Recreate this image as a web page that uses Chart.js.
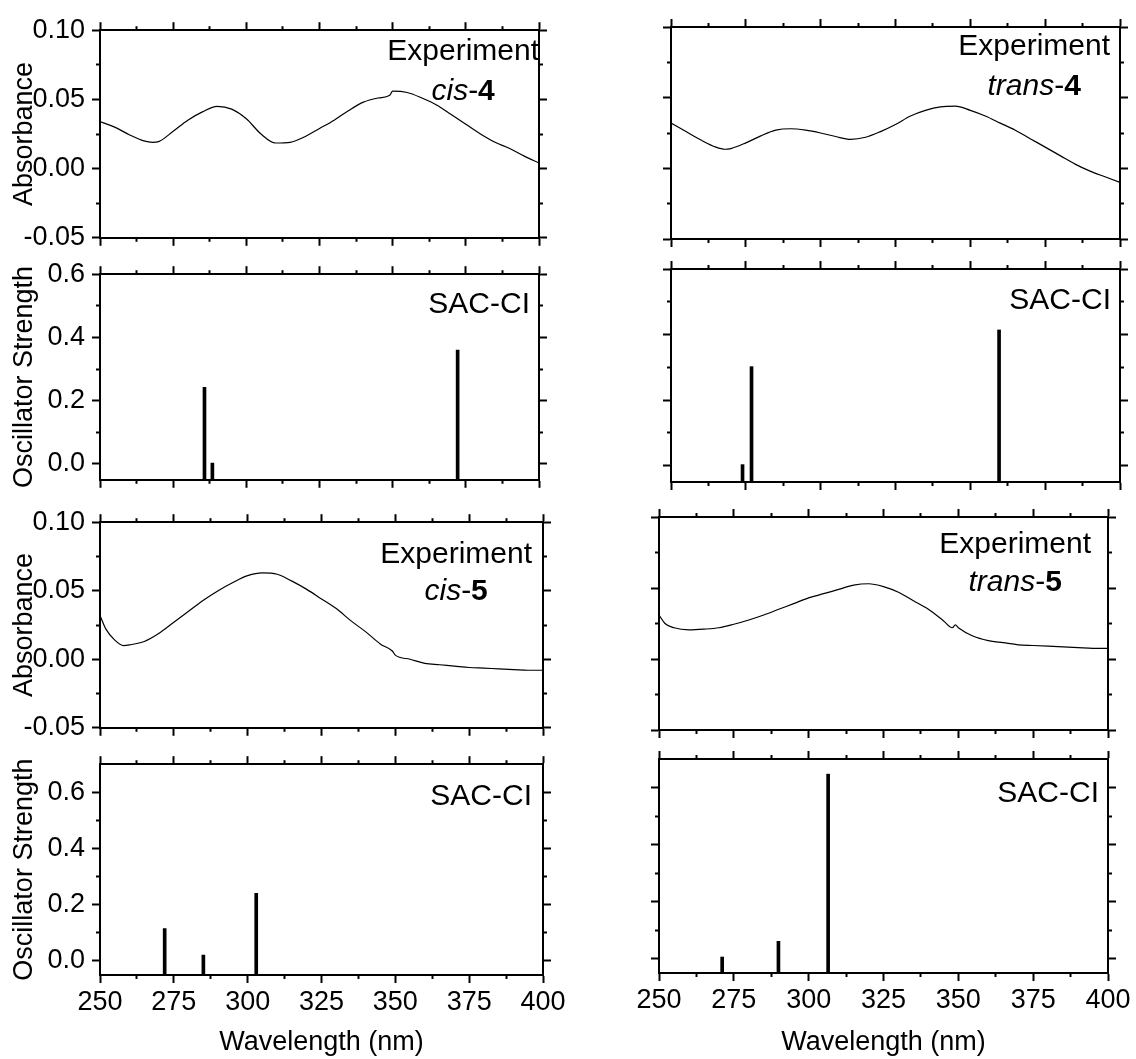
<!DOCTYPE html>
<html>
<head>
<meta charset="utf-8">
<script src="https://cdn.jsdelivr.net/npm/chart.js@4.4.1/dist/chart.umd.min.js"></script>
<style>
  html, body { margin: 0; padding: 0; background: #fff; }
  body { width: 1136px; height: 1059px; position: relative; overflow: hidden; }
  canvas { position: absolute; }
</style>
</head>
<body>
<script>
// tick positions
const wlMajor = [250, 275, 300, 325, 350, 375, 400];
const wlMinor = [262.5, 287.5, 312.5, 337.5, 362.5, 387.5];
const absMajor = [-0.05, 0, 0.05, 0.10];
const absMinor = [-0.025, 0.025, 0.075];
const oscMajor = [0, 0.2, 0.4, 0.6];
const oscMinor = [0.1, 0.3, 0.5];

const cis4Wl = [250, 255, 260, 265, 268, 270, 275, 280, 285, 290, 295, 300, 305, 310, 315, 320, 325, 330, 335, 340, 345, 349, 350, 355, 360, 365, 370, 375, 380, 385, 390, 395, 400];
const cis4Abs = [0.034, 0.030, 0.0245, 0.020, 0.019, 0.0195, 0.027, 0.035, 0.041, 0.045, 0.043, 0.036, 0.025, 0.0185, 0.019, 0.023, 0.029, 0.035, 0.042, 0.048, 0.051, 0.053, 0.056, 0.055, 0.051, 0.046, 0.039, 0.032, 0.025, 0.019, 0.0145, 0.009, 0.004];

const trans4Wl = [250, 255, 260, 265, 268, 270, 275, 280, 285, 290, 295, 300, 305, 310, 315, 320, 325, 330, 335, 340, 345, 350, 355, 360, 365, 370, 375, 380, 385, 390, 395, 400];
const trans4Abs = [0.032, 0.026, 0.020, 0.015, 0.0135, 0.014, 0.018, 0.023, 0.027, 0.028, 0.027, 0.025, 0.0225, 0.0205, 0.022, 0.026, 0.031, 0.037, 0.041, 0.0435, 0.044, 0.041, 0.037, 0.032, 0.027, 0.021, 0.015, 0.009, 0.003, -0.002, -0.006, -0.010];

const cis5Wl = [250, 252, 255, 258, 260, 265, 270, 275, 280, 285, 290, 295, 300, 305, 310, 315, 320, 325, 330, 335, 340, 345, 349, 350, 355, 360, 365, 370, 375, 380, 385, 390, 395, 400];
const cis5Abs = [0.032, 0.022, 0.014, 0.010, 0.0105, 0.013, 0.019, 0.027, 0.035, 0.043, 0.050, 0.056, 0.061, 0.063, 0.062, 0.057, 0.051, 0.044, 0.037, 0.028, 0.020, 0.011, 0.006, 0.003, 0.000, -0.003, -0.004, -0.005, -0.006, -0.0065, -0.007, -0.0075, -0.008, -0.008];

const trans5Wl = [250, 252, 255, 260, 265, 270, 275, 280, 285, 290, 295, 300, 305, 310, 315, 320, 325, 330, 335, 340, 345, 348, 349, 350, 355, 360, 365, 370, 375, 380, 385, 390, 395, 400];
const trans5Abs = [0.031, 0.025, 0.022, 0.0205, 0.021, 0.022, 0.0245, 0.0275, 0.031, 0.035, 0.039, 0.043, 0.046, 0.049, 0.052, 0.053, 0.051, 0.047, 0.041, 0.035, 0.027, 0.022, 0.024, 0.022, 0.016, 0.013, 0.0115, 0.010, 0.0095, 0.009, 0.0085, 0.008, 0.0075, 0.0075];

// SAC-CI transitions
const cis4SacWl = [285.7, 288.4, 372.2];
const cis4SacF = [0.242, 0.003, 0.360];
const trans4SacWl = [273.9, 276.9, 359.6];
const trans4SacF = [0.003, 0.302, 0.414];
const cis5SacWl = [271.9, 285.0, 302.9];
const cis5SacF = [0.115, 0.021, 0.241];
const trans5SacWl = [271.1, 289.9, 306.5];
const trans5SacF = [0.006, 0.061, 0.647];

const FONT = '"Liberation Sans", Arial, sans-serif';
Chart.defaults.font.family = FONT;
Chart.defaults.color = '#000';

const expNote = (name, num, dx, dy) => ({ dx, dy, lines: [[['Experiment', 'normal']], [[name, 'italic'], ['-', 'normal'], [num, 'bold']]] });
const sacNote = (dx, dy) => ({ dx, dy: [dy], lines: [[['SAC-CI', 'normal']]] });

const panels = [
  { box: [100, 27, 539, 241], left: true, bottom: false, kind: 'abs', wl: cis4Wl, val: cis4Abs, note: expNote('cis', '4', 0, [30, 70]) },
  { box: [671, 27, 1120, 239], left: false, bottom: false, kind: 'abs', wl: trans4Wl, val: trans4Abs, note: expNote('trans', '4', 10, [28, 68]) },
  { box: [100, 271, 539, 483], left: true, bottom: false, kind: 'osc', yMax: 0.6, wl: cis4SacWl, val: cis4SacF, note: sacNote(9, 39) },
  { box: [671, 269, 1120, 482], left: false, bottom: false, kind: 'osc', yMax: 0.6, wl: trans4SacWl, val: trans4SacF, note: sacNote(9, 40) },
  { box: [100, 519, 543, 731], left: true, bottom: false, kind: 'abs', wl: cis5Wl, val: cis5Abs, note: expNote('cis', '5', 11, [41, 78]) },
  { box: [659, 517, 1108, 730], left: false, bottom: false, kind: 'abs', wl: trans5Wl, val: trans5Abs, note: expNote('trans', '5', 17, [36, 74]) },
  { box: [100, 761, 543, 975], left: true, bottom: true, kind: 'osc', yMax: 0.7, wl: cis5SacWl, val: cis5SacF, note: sacNote(11, 41) },
  { box: [659, 759, 1108, 973], left: false, bottom: true, kind: 'osc', yMax: 0.7, wl: trans5SacWl, val: trans5SacF, note: sacNote(9, 43) }
];

function majorScale(pos, min, max, values, size, o) {
  const vertical = pos === 'left' || pos === 'right';
  return {
    type: 'linear', axis: vertical ? 'y' : 'x', position: pos, min, max, weight: 2,
    bounds: 'data', offset: false,
    afterBuildTicks: s => { s.ticks = values.map(v => ({ value: v })); },
    afterFit: s => { if (vertical) s.width = size; else s.height = size; },
    grid: { drawOnChartArea: false, tickLength: 8, tickWidth: 2, tickColor: '#000', color: '#000', offset: false },
    border: { display: true, color: '#000', width: 2 },
    ticks: {
      display: !!o.labels, autoSkip: false, maxRotation: 0,
      padding: vertical ? 7 : 3,
      font: { size: 27 }, color: '#000',
      callback: v => v.toFixed(o.digits || 0)
    },
    title: {
      display: !!o.title, text: o.title || '', color: '#000',
      font: { size: 27 },
      padding: vertical ? { top: 8, bottom: 0 } : { top: 0, bottom: 0 }
    }
  };
}

function minorScale(pos, min, max, values) {
  const vertical = pos === 'left' || pos === 'right';
  return {
    type: 'linear', axis: vertical ? 'y' : 'x', position: pos, min, max, weight: 1,
    bounds: 'data', offset: false,
    afterBuildTicks: s => { s.ticks = values.map(v => ({ value: v })); },
    afterFit: s => { if (vertical) s.width = 0; else s.height = 0; },
    grid: { drawOnChartArea: false, tickLength: 4, tickWidth: 2, tickColor: '#000', color: '#000', offset: false },
    border: { display: false },
    ticks: { display: false },
    title: { display: false }
  };
}

function drawNote(chart, note) {
  const ctx = chart.ctx, a = chart.chartArea;
  ctx.save();
  ctx.fillStyle = '#000';
  ctx.textBaseline = 'alphabetic';
  ctx.textAlign = 'left';
  let center = 0;
  note.lines.forEach((segs, i) => {
    const widths = segs.map(s => { ctx.font = s[1] + ' 30px ' + FONT; return ctx.measureText(s[0]).width; });
    const total = widths.reduce((t, w) => t + w, 0);
    let x;
    if (i === 0) { x = a.right - note.dx - total; center = x + total / 2; }
    else x = center - total / 2;
    segs.forEach((s, j) => {
      ctx.font = s[1] + ' 30px ' + FONT;
      ctx.fillText(s[0], x, a.top + note.dy[i]);
      x += widths[j];
    });
  });
  ctx.restore();
}

panels.forEach(p => {
  const [L, T, R, B] = p.box;
  const lp = p.left ? L : 40, rp = 40, tp = 20, bp = p.bottom ? 1059 - B : 20;
  const cv = document.createElement('canvas');
  cv.width = R - L + lp + rp;
  cv.height = B - T + tp + bp;
  cv.style.left = (L - lp) + 'px';
  cv.style.top = (T - tp) + 'px';
  document.body.appendChild(cv);

  const isAbs = p.kind === 'abs';
  const yMin = -0.05;
  const yMax = isAbs ? 0.10 : p.yMax;
  const yMaj = isAbs ? absMajor : oscMajor;
  const yMin2 = isAbs ? absMinor : oscMinor;

  const scales = {
    x: majorScale('bottom', 250, 400, wlMajor, bp, { labels: p.bottom, digits: 0, title: p.bottom ? 'Wavelength (nm)' : '' }),
    xMinor: minorScale('bottom', 250, 400, wlMinor),
    xTop: majorScale('top', 250, 400, wlMajor, tp, {}),
    xTopMinor: minorScale('top', 250, 400, wlMinor),
    y: majorScale('left', yMin, yMax, yMaj, lp, { labels: p.left, digits: isAbs ? 2 : 1, title: p.left ? (isAbs ? 'Absorbance' : 'Oscillator Strength') : '' }),
    yMinor: minorScale('left', yMin, yMax, yMin2),
    yRight: majorScale('right', yMin, yMax, yMaj, rp, {}),
    yRightMinor: minorScale('right', yMin, yMax, yMin2)
  };

  const dataset = isAbs ? {
    data: p.wl.map((x, i) => ({ x, y: p.val[i] })),
    borderColor: '#000', borderWidth: 1.2, pointRadius: 0,
    cubicInterpolationMode: 'monotone', fill: false,
    xAxisID: 'x', yAxisID: 'y'
  } : {
    data: p.wl.map((x, i) => ({ x, y: [yMin, p.val[i]] })),
    backgroundColor: '#000', borderWidth: 0, barThickness: 3, grouped: false,
    xAxisID: 'x', yAxisID: 'y'
  };

  new Chart(cv, {
    type: isAbs ? 'line' : 'bar',
    data: { datasets: [dataset] },
    options: {
      responsive: false, animation: false, devicePixelRatio: 1, events: [],
      layout: { padding: 0 },
      plugins: { legend: { display: false }, tooltip: { enabled: false } },
      scales
    },
    plugins: [{ id: 'note', afterDraw: chart => drawNote(chart, p.note) }]
  });
});
</script>
</body>
</html>
